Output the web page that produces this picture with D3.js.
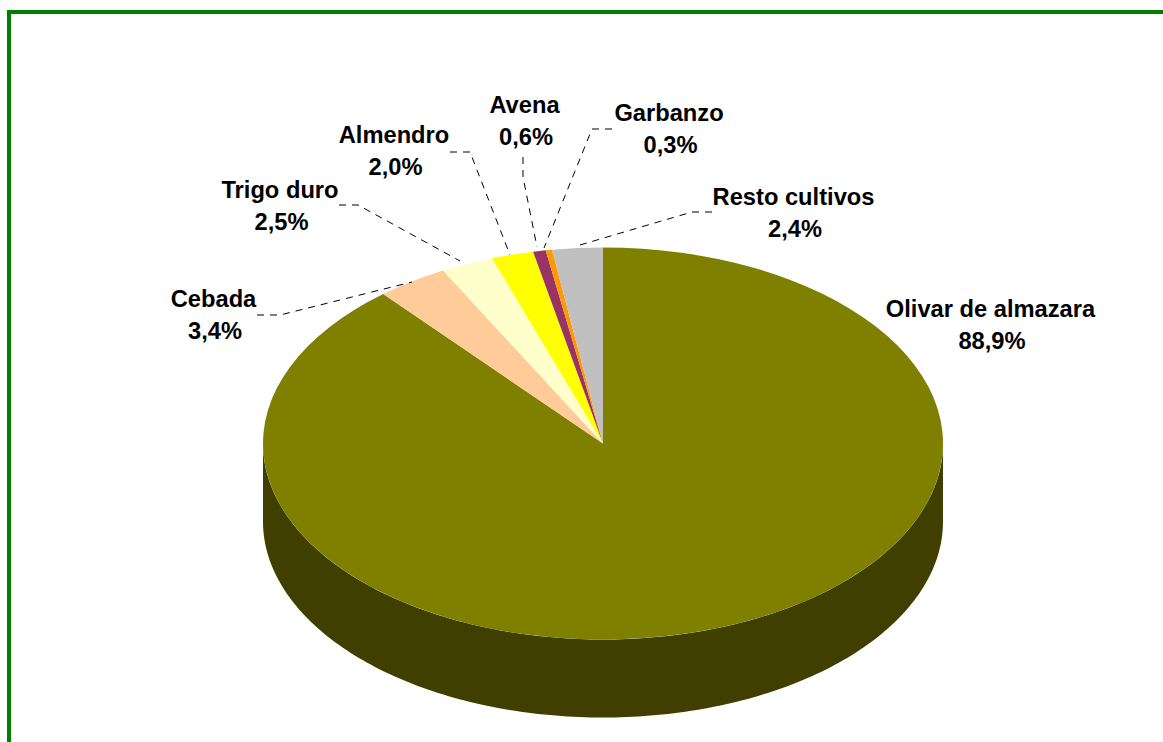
<!DOCTYPE html>
<html>
<head>
<meta charset="utf-8">
<script src="https://cdn.jsdelivr.net/npm/d3@7"></script>
<style>
  html, body { margin: 0; padding: 0; background: #fff; overflow: hidden; }
  text { font-family: "Liberation Sans", Arial, sans-serif; font-weight: bold; font-size: 23.7px; fill: #000; text-anchor: middle; }
</style>
</head>
<body>
<svg id="chart"></svg>
<script>
var categories = ["Olivar de almazara", "Cebada", "Trigo duro", "Almendro", "Avena", "Garbanzo", "Resto cultivos"];
var shares = [88.9, 3.4, 2.5, 2.0, 0.6, 0.3, 2.4];
var sliceColors = ["#808000", "#FFCC99", "#FFFFCC", "#FFFF00", "#993366", "#FF9900", "#C0C0C0"];

// label placement, same order as categories: [x, name baseline]
var labelPos = [[990.5, 316.5], [213.5, 306.5], [280, 197.5], [394, 142.5], [524.5, 112.5], [669, 120.5], [793.5, 204.5]];
// leader lines, from the label side to the pie
var leaders = [
    null,
    [[257, 315], [280, 315], [412, 282]],
    [[339, 205], [358, 205], [460, 261]],
    [[450, 152], [470, 152], [510, 255]],
    [[523, 157], [523, 177], [537, 247]],
    [[612, 129], [592, 129], [544, 248]],
    [[712, 212], [692, 212], [580, 245]]
];

var width = 1163, height = 742;
var cx = 603, cy = 443.5, rx = 340, ry = 196, depth = 78;

var svg = d3.select("#chart").attr("width", width).attr("height", height)
    .style("display", "block");

// green frame, only top and left are in the picture
svg.append("rect").attr("x", 7).attr("y", 10).attr("width", width).attr("height", 4).attr("fill", "#008000");
svg.append("rect").attr("x", 7).attr("y", 10).attr("width", 4).attr("height", height).attr("fill", "#008000");

var pie = d3.pie().sort(null).value(function (d) { return d; });
var arcs = pie(shares);
var arc = d3.arc().innerRadius(0).outerRadius(rx);

// side wall of the pie: front half of the ellipse pushed down by depth
var sideAngles = d3.range(0, 181).map(function (d) { return d * Math.PI / 180; });
var side = d3.area()
    .x(function (a) { return cx + rx * Math.cos(a); })
    .y0(function (a) { return cy + ry * Math.sin(a); })
    .y1(function (a) { return cy + ry * Math.sin(a) + depth; });

svg.append("path").attr("d", side(sideAngles)).attr("fill", "#403F00");

svg.append("g")
    .attr("transform", "translate(" + cx + "," + cy + ") scale(1," + (ry / rx) + ")")
    .selectAll("path")
    .data(arcs)
    .enter().append("path")
    .attr("d", arc)
    .attr("fill", function (d, i) { return sliceColors[i]; });

var leaderLine = d3.line();
svg.selectAll(".leader")
    .data(leaders.filter(function (d) { return d; }))
    .enter().append("path")
    .attr("class", "leader")
    .attr("d", leaderLine)
    .attr("fill", "none")
    .attr("stroke", "#000")
    .attr("stroke-width", 1)
    .attr("stroke-dasharray", "7,6");

var formatShare = function (v) { return v.toFixed(1).replace(".", ",") + "%"; };

for (var i = 0; i < categories.length; i++) {
    svg.append("text").attr("x", labelPos[i][0]).attr("y", labelPos[i][1]).text(categories[i]);
    svg.append("text").attr("x", labelPos[i][0] + 1.5).attr("y", labelPos[i][1] + 32).text(formatShare(shares[i]));
}
</script>
</body>
</html>
